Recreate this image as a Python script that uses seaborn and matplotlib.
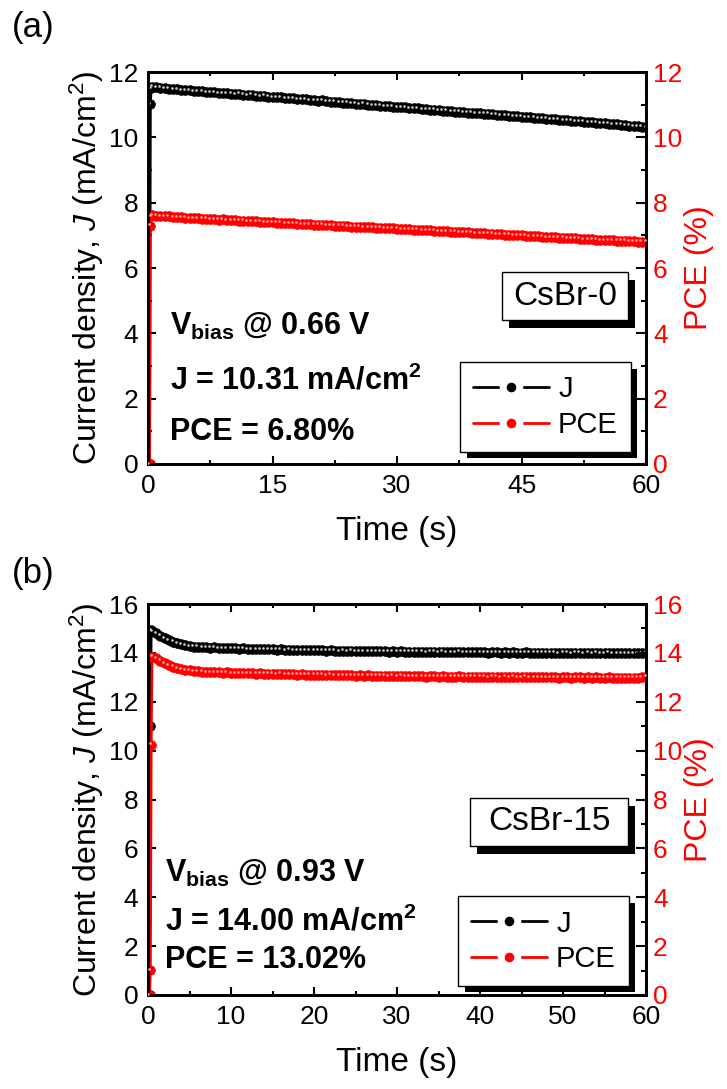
import numpy as np
import matplotlib
matplotlib.use("Agg")
import matplotlib.pyplot as plt
import seaborn as sns
import matplotlib.patheffects as pe
from matplotlib.ticker import MultipleLocator
from matplotlib.lines import Line2D
from matplotlib.patches import Rectangle
from matplotlib.transforms import offset_copy

# ---------------- data ----------------
# first samples (switch-on transient), then one sample every 0.5 s up to 60 s
time_head = [0.2, 0.3, 0.4]
time_tail = np.arange(0.5, 60.001, 0.5)
time_s = np.concatenate([time_head, time_tail])

# (a) CsBr-0 at 0.66 V
j_a_head = [0.0, 11.02, 11.50]
j_a = [
    11.55, 11.53, 11.52, 11.50, 11.49, 11.47, 11.48, 11.45, 11.44, 11.45,
    11.42, 11.41, 11.42, 11.39, 11.38, 11.38, 11.36, 11.35, 11.36, 11.33,
    11.32, 11.33, 11.30, 11.29, 11.30, 11.27, 11.26, 11.27, 11.24, 11.23,
    11.22, 11.23, 11.20, 11.19, 11.19, 11.17, 11.16, 11.17, 11.14, 11.13,
    11.12, 11.13, 11.10, 11.09, 11.09, 11.07, 11.06, 11.06, 11.04, 11.03,
    11.02, 11.03, 11.00, 10.99, 10.99, 10.97, 10.96, 10.96, 10.94, 10.93,
    10.92, 10.92, 10.90, 10.89, 10.89, 10.87, 10.86, 10.85, 10.84, 10.83,
    10.82, 10.82, 10.80, 10.79, 10.78, 10.77, 10.76, 10.75, 10.74, 10.73,
    10.72, 10.72, 10.70, 10.69, 10.68, 10.67, 10.66, 10.65, 10.64, 10.63,
    10.62, 10.61, 10.60, 10.59, 10.58, 10.57, 10.56, 10.55, 10.54, 10.53,
    10.52, 10.51, 10.50, 10.49, 10.48, 10.47, 10.46, 10.45, 10.44, 10.43,
    10.42, 10.41, 10.40, 10.39, 10.38, 10.36, 10.35, 10.34, 10.33, 10.31,
]
pce_a_head = [0.0, 7.30, 7.58]
pce_a = [
    7.62, 7.60, 7.59, 7.58, 7.58, 7.56, 7.55, 7.56, 7.54, 7.53,
    7.53, 7.52, 7.51, 7.51, 7.50, 7.49, 7.48, 7.49, 7.47, 7.46,
    7.46, 7.45, 7.45, 7.44, 7.43, 7.43, 7.42, 7.41, 7.41, 7.40,
    7.39, 7.39, 7.38, 7.37, 7.37, 7.36, 7.35, 7.35, 7.34, 7.33,
    7.33, 7.32, 7.31, 7.31, 7.30, 7.29, 7.29, 7.28, 7.27, 7.27,
    7.26, 7.25, 7.25, 7.24, 7.23, 7.23, 7.22, 7.21, 7.21, 7.20,
    7.19, 7.19, 7.18, 7.17, 7.17, 7.16, 7.15, 7.15, 7.14, 7.13,
    7.13, 7.12, 7.11, 7.11, 7.10, 7.09, 7.09, 7.08, 7.07, 7.07,
    7.06, 7.05, 7.05, 7.04, 7.03, 7.02, 7.02, 7.01, 7.00, 7.00,
    6.99, 6.98, 6.98, 6.97, 6.96, 6.95, 6.95, 6.94, 6.93, 6.93,
    6.92, 6.91, 6.91, 6.90, 6.89, 6.88, 6.88, 6.87, 6.86, 6.86,
    6.85, 6.85, 6.84, 6.83, 6.83, 6.82, 6.82, 6.81, 6.81, 6.80,
]

# (b) CsBr-15 at 0.93 V
j_b_head = [0.0, 11.02, 14.92]
j_b = [
    14.88, 14.80, 14.70, 14.60, 14.52, 14.45, 14.40, 14.35, 14.31, 14.28,
    14.26, 14.25, 14.23, 14.22, 14.21, 14.22, 14.20, 14.19, 14.20, 14.18,
    14.18, 14.17, 14.18, 14.16, 14.16, 14.15, 14.16, 14.14, 14.15, 14.14,
    14.13, 14.14, 14.12, 14.13, 14.12, 14.11, 14.12, 14.10, 14.11, 14.10,
    14.10, 14.11, 14.09, 14.10, 14.09, 14.08, 14.09, 14.08, 14.09, 14.07,
    14.08, 14.07, 14.08, 14.06, 14.07, 14.06, 14.07, 14.05, 14.06, 14.05,
    14.06, 14.04, 14.05, 14.05, 14.04, 14.05, 14.03, 14.04, 14.04, 14.03,
    14.04, 14.03, 14.03, 14.02, 14.04, 14.03, 14.02, 14.03, 14.02, 14.02,
    14.03, 14.01, 14.02, 14.02, 14.01, 14.02, 14.01, 14.02, 14.00, 14.01,
    14.02, 14.00, 14.01, 14.01, 14.00, 14.01, 14.00, 14.01, 13.99, 14.00,
    14.01, 13.99, 14.00, 14.00, 13.99, 14.00, 13.99, 14.00, 13.98, 13.99,
    14.00, 13.98, 13.99, 13.99, 13.98, 13.99, 13.98, 13.99, 13.99, 14.00,
]
pce_b_head = [0.0, 1.02, 10.25]
pce_b = [
    13.85, 13.78, 13.68, 13.58, 13.50, 13.43, 13.38, 13.34, 13.30, 13.28,
    13.26, 13.25, 13.23, 13.22, 13.21, 13.22, 13.20, 13.19, 13.20, 13.18,
    13.18, 13.17, 13.18, 13.16, 13.16, 13.15, 13.16, 13.14, 13.15, 13.14,
    13.13, 13.14, 13.12, 13.13, 13.12, 13.11, 13.12, 13.10, 13.11, 13.10,
    13.10, 13.11, 13.09, 13.10, 13.09, 13.08, 13.09, 13.08, 13.09, 13.07,
    13.08, 13.07, 13.08, 13.06, 13.07, 13.06, 13.07, 13.05, 13.06, 13.05,
    13.06, 13.04, 13.05, 13.05, 13.04, 13.05, 13.03, 13.04, 13.04, 13.03,
    13.04, 13.03, 13.03, 13.02, 13.04, 13.03, 13.02, 13.03, 13.02, 13.02,
    13.03, 13.01, 13.02, 13.02, 13.01, 13.02, 13.01, 13.02, 13.00, 13.01,
    13.02, 13.00, 13.01, 13.01, 13.00, 13.01, 13.00, 13.01, 12.99, 13.00,
    13.01, 12.99, 13.00, 13.00, 12.99, 13.00, 12.99, 13.00, 12.98, 12.99,
    13.00, 12.98, 12.99, 12.99, 12.98, 12.99, 12.98, 12.99, 13.00, 13.02,
]

panel_letters = ["(a)", "(b)"]
sample_names = ["CsBr-0", "CsBr-15"]
bias_text = ["0.66 V", "0.93 V"]
j_text = ["10.31", "14.00"]
pce_text = ["6.80%", "13.02%"]
legend_labels = ["J", "PCE"]

# ---------------- style ----------------
sns.set_theme(style="ticks")
plt.rcParams["font.family"] = ["Liberation Sans", "DejaVu Sans"]
plt.rcParams["mathtext.fontset"] = "custom"
plt.rcParams["mathtext.rm"] = "Liberation Sans"
plt.rcParams["mathtext.it"] = "Liberation Sans:italic"
plt.rcParams["mathtext.bf"] = "Liberation Sans:bold"
for key in ("text.color", "axes.labelcolor", "xtick.color", "ytick.color",
            "axes.edgecolor"):
    plt.rcParams[key] = "black"

fig = plt.figure(figsize=(7.27, 10.89), dpi=100)
W, H = 727.0, 1089.0

panels = [
    dict(rect=[148 / W, 1 - 464 / H, 498 / W, 392 / H], ymax=12, xmaj=15, xmin=7.5,
         t=time_s, j=j_a_head + j_a, pce=pce_a_head + pce_a,
         letter_y=1 - 27 / H,
         box=(0.711, 0.367, 0.253, 0.123),
         txt_x=0.044, txt_y=(0.329, 0.189, 0.061),
         leg_anchor=(0.970, 0.031)),
    dict(rect=[148 / W, 1 - 995 / H, 498 / W, 391 / H], ymax=16, xmaj=10, xmin=5,
         t=time_s, j=j_b_head + j_b, pce=pce_b_head + pce_b,
         letter_y=1 - 573 / H,
         box=(0.647, 0.381, 0.317, 0.123),
         txt_x=0.034, txt_y=(0.289, 0.166, 0.069),
         leg_anchor=(0.966, 0.023)),
]

tick_fs = 19
label_fs = 23
note_fs = 22


def draw_series(ax, t, y, color, speck):
    sns.lineplot(x=t, y=y, ax=ax, color=color, lw=1.8, marker="o",
                 markersize=7.0, markeredgecolor=color, markeredgewidth=0.5,
                 estimator=None, sort=False, legend=False)
    # glossy highlight on each ball marker
    hl = offset_copy(ax.transData, fig=fig, x=-1.4, y=1.4, units="dots")
    ax.plot(t, y, ls="none", marker="o", ms=1.9, mew=0, color=speck,
            transform=hl, zorder=3)


for i, p in enumerate(panels):
    ax = fig.add_axes(p["rect"])
    ax2 = ax.twinx()

    draw_series(ax, p["t"], p["j"], "black", "#c8c8c8")
    draw_series(ax2, p["t"], p["pce"], "red", "#ffa0a0")

    for a in (ax, ax2):
        a.set_xlim(0, 60)
        a.set_ylim(0, p["ymax"])
        a.yaxis.set_major_locator(MultipleLocator(2))
        a.yaxis.set_minor_locator(MultipleLocator(1))
        for s in a.spines.values():
            s.set_linewidth(2)
            s.set_color("black")
            s.set_visible(True)
    ax.xaxis.set_major_locator(MultipleLocator(p["xmaj"]))
    ax.xaxis.set_minor_locator(MultipleLocator(p["xmin"]))

    ax.tick_params(axis="x", which="both", direction="in", top=True, bottom=True,
                   width=1.5, labelsize=tick_fs, pad=7, colors="black")
    ax.tick_params(axis="x", which="major", length=6)
    ax.tick_params(axis="x", which="minor", length=3)
    ax.tick_params(axis="y", which="both", direction="in", left=True, right=False,
                   width=1.5, labelsize=tick_fs, pad=7, colors="black")
    ax.tick_params(axis="y", which="major", length=6)
    ax.tick_params(axis="y", which="minor", length=3)
    ax2.tick_params(axis="y", which="both", direction="in", right=True, left=False,
                    width=1.5, labelsize=tick_fs, pad=5, color="black",
                    labelcolor="red")
    ax2.tick_params(axis="y", which="major", length=7)
    ax2.tick_params(axis="y", which="minor", length=3.5)

    ax.set_xlabel("Time (s)", fontsize=24, labelpad=13, color="black")
    ax.set_ylabel("Current density, $J$ (mA/cm$^2$)", fontsize=label_fs,
                  labelpad=2, color="black")
    ax2.set_ylabel("PCE (%)", fontsize=label_fs, color="red", labelpad=1)

    # sample name box with a solid drop shadow
    bx, by, bw, bh = p["box"]
    rect = Rectangle((bx, by), bw, bh, transform=ax2.transAxes, fc="white",
                     ec="black", lw=1.0, zorder=5)
    rect.set_path_effects([pe.SimplePatchShadow(offset=(5, -6), shadow_rgbFace="black",
                                                alpha=1.0), pe.Normal()])
    ax2.add_patch(rect)
    ax2.text(bx + bw / 2, by + bh / 2, sample_names[i], transform=ax2.transAxes,
             ha="center", va="center", fontsize=24, color="black", zorder=6)

    # measurement conditions
    tx = p["txt_x"]
    ty = p["txt_y"]
    ax2.text(tx, ty[0], r"$\mathbf{V}_{\mathbf{bias}}$ @ " + bias_text[i],
             transform=ax2.transAxes, fontsize=note_fs, fontweight="bold",
             va="baseline", ha="left", color="black", zorder=6)
    ax2.text(tx, ty[1], "J = " + j_text[i] + r" mA/cm$^{\mathbf{2}}$",
             transform=ax2.transAxes, fontsize=note_fs, fontweight="bold",
             va="baseline", ha="left", color="black", zorder=6)
    ax2.text(tx, ty[2], "PCE = " + pce_text[i], transform=ax2.transAxes,
             fontsize=note_fs, fontweight="bold", va="baseline", ha="left",
             color="black", zorder=6)

    # legend
    handles = [
        Line2D([], [], color="black", lw=2, marker="o", ms=12, mfc="black",
               mec="white", mew=5),
        Line2D([], [], color="red", lw=2, marker="o", ms=12, mfc="red",
               mec="white", mew=5),
    ]
    leg = ax2.legend(handles, legend_labels, loc="lower right",
                     bbox_to_anchor=p["leg_anchor"], borderaxespad=0,
                     fontsize=21, frameon=True, fancybox=False, framealpha=1,
                     edgecolor="black", handlelength=2.6, handletextpad=0.3,
                     borderpad=0.45, labelspacing=0.25, numpoints=1)
    for txt in leg.get_texts():
        txt.set_color("black")
    leg.get_frame().set_linewidth(1.0)
    leg.get_frame().set_path_effects([pe.SimplePatchShadow(offset=(4.5, -4.5),
                                                           shadow_rgbFace="black",
                                                           alpha=1.0), pe.Normal()])
    leg.set_zorder(7)

    fig.text(12 / W, p["letter_y"], panel_letters[i], fontsize=25, ha="left",
             va="center", color="black")

fig.savefig("out.png", dpi=100)
